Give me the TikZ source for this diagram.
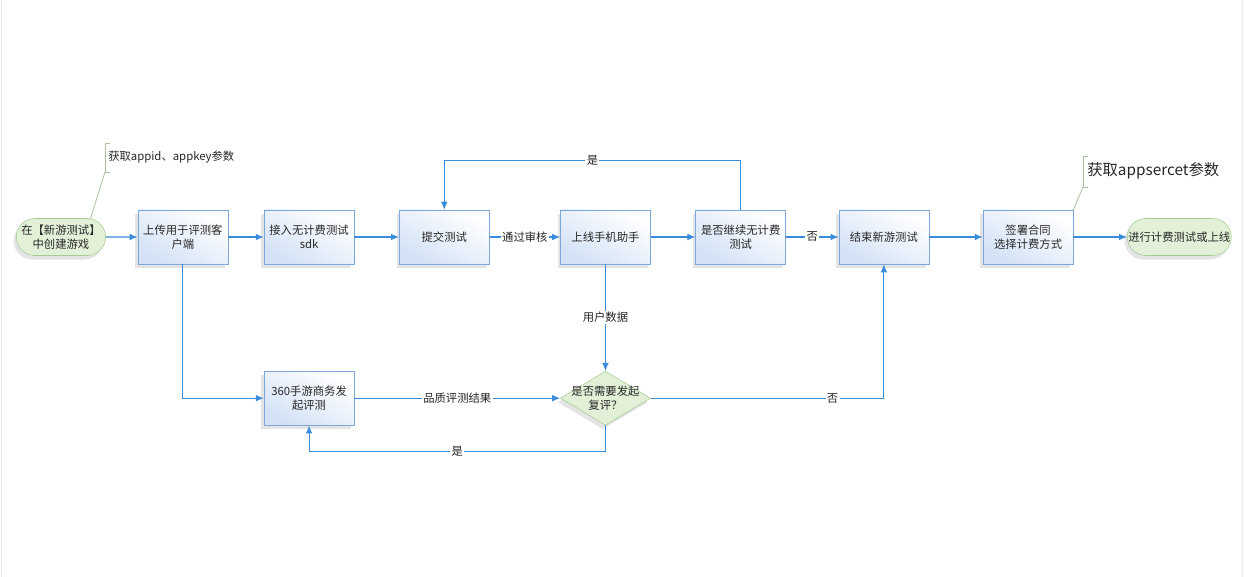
\documentclass[tikz,border=0pt]{standalone}
\usepackage{fontspec}
\setmainfont{Noto Sans CJK SC}
\usepackage{xcolor}
\usetikzlibrary{arrows.meta,positioning,shapes.geometric,shapes.misc,shadows}
\definecolor{boxline}{HTML}{7BA7DA}
\definecolor{boxfill}{HTML}{D3E2F6}
\definecolor{flow}{HTML}{3B8BDB}
\definecolor{leaf}{HTML}{E2F0D8}
\definecolor{leafline}{HTML}{A5CB93}
\definecolor{notecol}{HTML}{A9C39C}
\definecolor{ink}{HTML}{262626}

\begin{document}
\begin{tikzpicture}[
  x=0.75pt, y=-0.75pt,
  node distance=24pt and 27pt,
  soft/.style={drop shadow={shadow xshift=-2pt, shadow yshift=-3pt, fill=black!30, opacity=.35}},
  box/.style={soft, draw=boxline, top color=white, bottom color=boxfill, shading angle=-30,
    minimum width=67.5pt, minimum height=40.5pt, text width=64pt, align=center,
    inner sep=1pt, font=\fontsize{8.5}{10.5}\selectfont, text=ink},
  terminal/.style={soft, rounded rectangle, draw=leafline, fill=leaf, minimum height=27.75pt,
    align=center, inner sep=1pt, font=\fontsize{8.5}{10.5}\selectfont, text=ink},
  decision/.style={soft, diamond, draw=leafline, fill=leaf, minimum width=67.5pt,
    minimum height=40.5pt, inner sep=0pt},
  lbl/.style={fill=white, inner sep=1pt, font=\fontsize{8.5}{10}\selectfont, text=ink},
  arrow/.style={-{Latex[length=6pt, width=5pt]}, flow, line width=0.8pt},
  note/.style={notecol, line width=0.6pt}
]
\useasboundingbox (0,0) rectangle (1244,577);
\draw[black!8] (1,0) -- (1,577);
\draw[black!8] (1242,0) -- (1242,577);

% top row
\node[terminal, minimum width=69pt] (create) at (61,237) {在【新游测试】\\中创建游戏};
\node[box, right=23.75pt of create] (upload) {上传用于评测客\\户端};
\node[box, right=26.75pt of upload] (sdk) {接入无计费测试\\sdk};
\node[box, right=33.5pt of sdk] (submit) {提交测试};
\node[box, right=53pt of submit] (online) {上线手机助手};
\node[box, right=33.5pt of online] (goon) {是否继续无计费\\测试};
\node[box, right=39.5pt of goon] (finish) {结束新游测试};
\node[box, right=40.25pt of finish] (sign) {签署合同\\选择计费方式};
\node[terminal, minimum width=80pt, right=40.25pt of sign] (charge) {进行计费测试或上线};

% bottom row
\node[box, below=80pt of sdk] (review) {360手游商务发\\起评测};
\node[decision, below=80pt of online,
  label={[align=center, font=\fontsize{8.5}{10.5}\selectfont, text=ink]center:是否需要发起\\复评？}] (recheck) {};

% notes
\coordinate (keytip) at (105,172);
\draw[note] (110,143) -- (105,143) -- (keytip) -- (110,172);
\draw[note] (keytip) -- (create.32);
\node[anchor=west, inner sep=0pt, font=\fontsize{8.5}{10}\selectfont, text=ink] (keynote) at (108,157) {获取appid、appkey参数};
\coordinate (sectip) at (1083,187);
\draw[note] (1088,156) -- (1083,156) -- (sectip) -- (1088,187);
\draw[note] (sectip) -- (sign.north east);
\node[anchor=west, inner sep=0pt, font=\fontsize{11.5}{13.5}\selectfont, text=ink] (secnote) at (1087,171) {获取appsercet参数};

% flow
\draw[arrow] (create) -- (upload);
\draw[arrow] (upload) -- (sdk);
\draw[arrow] (sdk) -- (submit);
\draw[arrow] (submit) -- node[lbl] {通过审核} (online);
\draw[arrow] (online) -- (goon);
\draw[arrow] (goon) -- node[lbl] {否} (finish);
\draw[arrow] (finish) -- (sign);
\draw[arrow] (sign) -- (charge);
\draw[arrow] (goon.north) -- ++(0,-49) -| node[lbl, pos=0.25] {是} (submit.north);
\draw[arrow] (online) -- node[lbl] {用户数据} (recheck);
\draw[arrow] (upload.south) |- (review.west);
\draw[arrow] (review) -- node[lbl] {品质评测结果} (recheck);
\draw[arrow] (recheck.east) -| node[lbl, pos=0.39] {否} (finish.south);
\draw[arrow] (recheck.south) -- ++(0,26) -| node[lbl, pos=0.25] {是} (review.south);
\end{tikzpicture}
\end{document}
